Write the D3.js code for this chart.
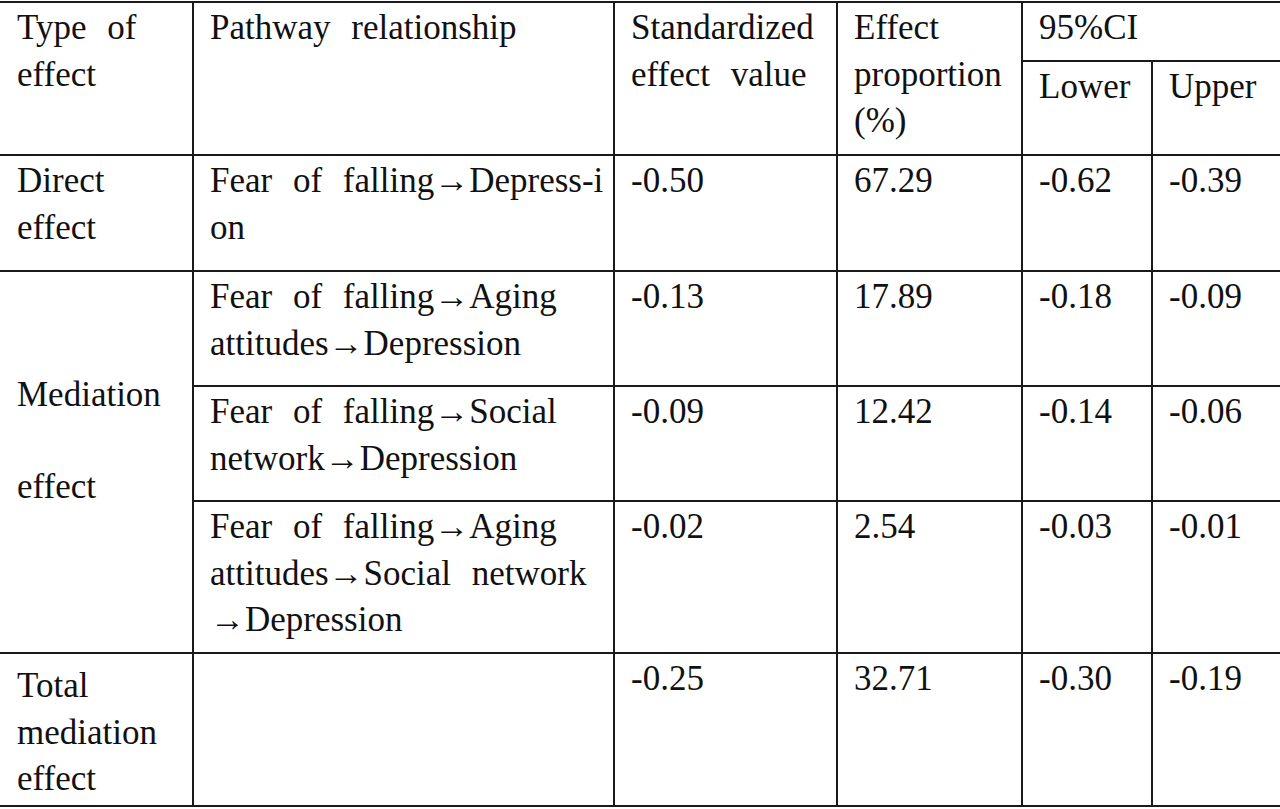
<!DOCTYPE html>
<html>
<head>
<meta charset="utf-8">
<script src="https://cdn.jsdelivr.net/npm/d3@7"></script>
<style>
  html, body { margin: 0; padding: 0; background: #fff; }
  svg { display: block; }
</style>
</head>
<body>
<div id="table"></div>
<script>
// Table content
const columns = ["type", "pathway", "effect", "proportion", "lower", "upper"];
const headerLabels = [["Type of", "effect"], ["Pathway relationship"], ["Standardized", "effect value"], ["Effect", "proportion", "(%)"], ["95%CI"]];
const subHeaderLabels = ["Lower", "Upper"];

const effectTypes = [["Direct", "effect"], ["Mediation", "", "effect"], ["Total", "mediation", "effect"]];
const effectTypeSpans = [1, 3, 1];
const pathways = [
  ["Fear of falling→Depress-i", "on"],
  ["Fear of falling→Aging", "attitudes→Depression"],
  ["Fear of falling→Social", "network→Depression"],
  ["Fear of falling→Aging", "attitudes→Social network", "→Depression"],
  []
];
const effectValues = [-0.50, -0.13, -0.09, -0.02, -0.25];
const proportions = [67.29, 17.89, 12.42, 2.54, 32.71];
const ciLower = [-0.62, -0.18, -0.14, -0.03, -0.30];
const ciUpper = [-0.39, -0.09, -0.06, -0.01, -0.19];

// Layout
const width = 1280;
const height = 809;
const colEdges = [0, 193, 614, 837, 1022, 1152, 1280];
const rowEdges = [2, 155, 271, 386, 501, 653, 806];
const subHeaderY = 61;
const lineHeight = 46.5;
const padLeft = 17;
const firstBaseline = 37;
const fontFamily = "'Liberation Serif', 'Tinos', 'Times New Roman', 'DejaVu Serif', serif";

const fmt = d3.formatLocale({decimal: ".", thousands: ",", grouping: [3], currency: ["", ""], minus: "-"}).format(".2f");

/*******************************/
/*    Append the containers    */
/*******************************/
const svg = d3.select("#table")
  .append("svg")
    .attr("width", width)
    .attr("height", height)
    .attr("viewBox", `0 0 ${width} ${height}`);

/****************************/
/*    Declare the scales    */
/****************************/
const xLeft = d3.scaleOrdinal()
  .domain(columns)
  .range(colEdges.slice(0, -1));
const yTop = d3.scaleOrdinal()
  .domain(d3.range(rowEdges.length))
  .range(rowEdges);

/****************************/
/*    Build the cells       */
/****************************/
const cells = [];

// Header
headerLabels.forEach((lines, i) => {
  cells.push({col: columns[i], top: rowEdges[0], bottom: rowEdges[1], lines});
});
subHeaderLabels.forEach((label, i) => {
  cells.push({col: columns[4 + i], top: subHeaderY, bottom: rowEdges[1], lines: [label]});
});

// Effect types (merged rows)
let r = 1;
effectTypes.forEach((lines, i) => {
  const span = effectTypeSpans[i];
  // the last label sits a little lower in its cell in the original
  const shift = i === effectTypes.length - 1 ? 7 : 0;
  cells.push({col: "type", top: yTop(r) + shift, bottom: yTop(r + span), lines, centered: span > 1});
  r += span;
});

// Body values
pathways.forEach((lines, i) => {
  const top = yTop(i + 1);
  const bottom = yTop(i + 2);
  cells.push({col: "pathway", top, bottom, lines});
  cells.push({col: "effect", top, bottom, lines: [fmt(effectValues[i])]});
  cells.push({col: "proportion", top, bottom, lines: [fmt(proportions[i])]});
  cells.push({col: "lower", top, bottom, lines: [fmt(ciLower[i])]});
  cells.push({col: "upper", top, bottom, lines: [fmt(ciUpper[i])]});
});

/***************************/
/*     Draw the text       */
/***************************/
const cellTexts = svg.selectAll(".cell")
  .data(cells)
  .join("text")
    .attr("class", "cell")
    .attr("font-family", fontFamily)
    .attr("font-size", 35)
    .attr("fill", "#111")
    .style("word-spacing", "12px")
    .attr("x", d => xLeft(d.col) + padLeft);

cellTexts.selectAll("tspan")
  .data(d => d.lines.map((line, i) => {
    let y;
    if (d.centered) {
      // merged cell: text block sits around the middle
      const mid = (d.top + d.bottom) / 2;
      y = mid + (i - (d.lines.length - 1) / 2) * 46 - 10;
    } else {
      y = d.top + firstBaseline + i * lineHeight;
    }
    return {line, y, x: xLeft(d.col) + padLeft};
  }))
  .join("tspan")
    .attr("x", t => t.x)
    .attr("y", t => t.y)
    .text(t => t.line);

/***************************/
/*     Draw the rules      */
/***************************/
const hLines = [
  {y: rowEdges[0], x1: 0, x2: width},
  {y: subHeaderY, x1: xLeft("lower"), x2: width},
  {y: rowEdges[1], x1: 0, x2: width},
  {y: rowEdges[2], x1: 0, x2: width},
  {y: rowEdges[3], x1: xLeft("pathway"), x2: width},
  {y: rowEdges[4], x1: xLeft("pathway"), x2: width},
  {y: rowEdges[5], x1: 0, x2: width},
  {y: rowEdges[6], x1: 0, x2: width}
];
const vLines = [
  {x: xLeft("pathway"), y1: rowEdges[0], y2: rowEdges[6]},
  {x: xLeft("effect"), y1: rowEdges[0], y2: rowEdges[6]},
  {x: xLeft("proportion"), y1: rowEdges[0], y2: rowEdges[6]},
  {x: xLeft("lower"), y1: rowEdges[0], y2: rowEdges[6]},
  {x: xLeft("upper"), y1: subHeaderY, y2: rowEdges[6]}
];

svg.selectAll(".h-rule")
  .data(hLines)
  .join("line")
    .attr("class", "h-rule")
    .attr("x1", d => d.x1)
    .attr("x2", d => d.x2)
    .attr("y1", d => d.y)
    .attr("y2", d => d.y)
    .attr("stroke", "#1a1a1a")
    .attr("stroke-width", 2);

svg.selectAll(".v-rule")
  .data(vLines)
  .join("line")
    .attr("class", "v-rule")
    .attr("x1", d => d.x)
    .attr("x2", d => d.x)
    .attr("y1", d => d.y1 - 1)
    .attr("y2", d => d.y2 + 1)
    .attr("stroke", "#1a1a1a")
    .attr("stroke-width", 2);
</script>
</body>
</html>
